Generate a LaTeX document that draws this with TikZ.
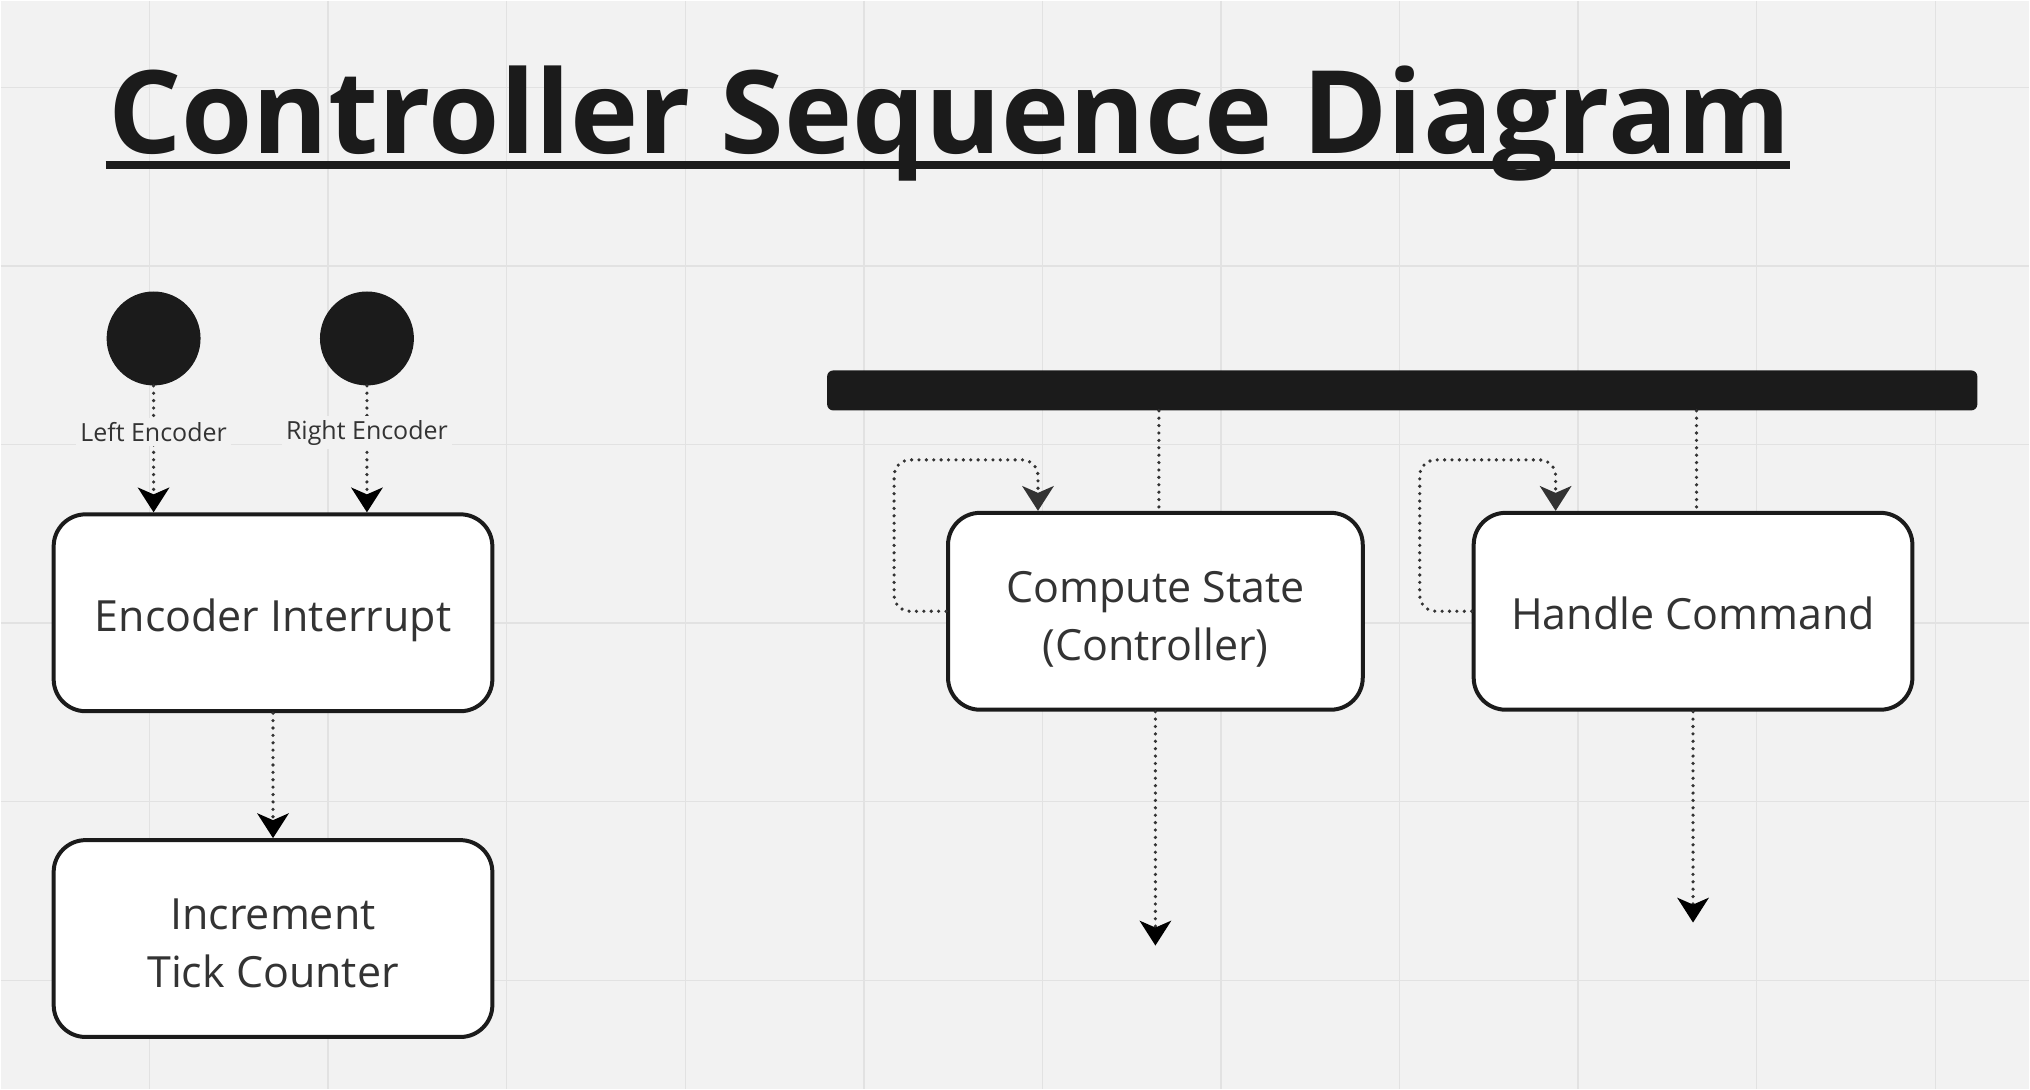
\documentclass[tikz,border=0pt]{standalone}
\usepackage{fontspec}
\setmainfont{Open Sans}
\usetikzlibrary{arrows.meta}
\definecolor{board}{HTML}{F2F2F2}
\definecolor{gridline}{HTML}{E2E2E2}
\definecolor{ink}{HTML}{1B1B1B}
\definecolor{wire}{HTML}{333333}

\begin{document}
\begin{tikzpicture}[x=0.5pt,y=-0.5pt,
    >={Stealth[length=12.5pt,width=16pt,inset=3.5pt,line width=0pt]},
    flow/.style={->,draw=wire,line width=1.8pt,
      dash pattern=on 0pt off 3.7pt,line cap=round},
    state node/.style={rectangle,rounded corners=16pt,draw=ink,line width=2pt,
      fill=white,text=wire,font=\fontsize{21.5}{29}\selectfont,align=center,
      text depth=0pt,execute at begin node={\rule{0pt}{18.5pt}},
      minimum width=219.5pt,minimum height=98.5pt},
    start node/.style={circle,fill=ink,minimum size=47pt,inner sep=0pt},
    bar node/.style={rectangle,fill=ink,rounded corners=3pt,inner sep=0pt,
      minimum width=575.5pt,minimum height=20pt},
    io node/.style={fill=board,text=wire,
      font=\fontsize{12.5}{15}\selectfont,inner sep=2pt}]

  % board and grid
  \fill[board] (0,0) rectangle (2030,1089);
  \foreach \i in {0,...,10}
    \draw[gridline,line width=0.7pt] (148.9+\i*178.7,0) -- (148.9+\i*178.7,1089);
  \foreach \j in {0,...,5}
    \draw[gridline,line width=0.7pt] (0,86.7+\j*178.7) -- (2030,86.7+\j*178.7);

  % title
  \node[anchor=base west,inner sep=0pt,text=ink,
    font=\fontsize{57.7}{66}\selectfont\bfseries] (TITLE) at (107,153)
    {Controller Sequence Diagram};
  \draw[ink,line width=4pt] ([shift={(-1pt,-5.5pt)}]TITLE.base west)
    -- ([shift={(-1pt,-5.5pt)}]TITLE.base east);

  \node[start node] (LE) at (153,338) {};
  \node[start node] (RE) at (366.5,338) {};
  \node[state node] (EI) at (272.5,612.5) {Encoder Interrupt};
  \node[state node] (ITC) [node distance=163pt, below of=EI]
    {\rule{0pt}{20pt}Increment\\Tick Counter};

  \node[bar node] (BAR) at (1402.5,390) {};
  \node[state node,minimum width=207.5pt] (CS) at (1155.5,611)
    {\rule{0pt}{20pt}Compute State\\(Controller)};
  \node[state node] (HC) [node distance=269pt, right of=CS] {Handle Command};

  \coordinate (CSin) at ([xshift=46pt]CS.north west);
  \coordinate (HCin) at ([xshift=42pt]HC.north west);
  \coordinate (CSend) at ([yshift=-117pt]CS.south);
  \coordinate (HCend) at ([yshift=-105.5pt]HC.south);

  \path[flow]
    (LE) edge node[io node,pos=0.365] {Left Encoder} (LE |- EI.north)
    (RE) edge node[io node,pos=0.37] {Right Encoder} (RE |- EI.north)
    (EI) edge (ITC)
    (CS) edge (CSend)
    (HC) edge (HCend);

  \draw[flow,-] ([xshift=1.75pt]CS.north |- BAR.south) -- ([xshift=1.75pt]CS.north);
  \draw[flow,-] ([xshift=1.75pt]HC.north |- BAR.south) -- ([xshift=1.75pt]HC.north);

  % self loops
  \draw[flow,rounded corners=8pt] (CS.west) -- ++(-52,0) |- ([yshift=25.5pt]CSin) -- (CSin);
  \draw[flow,rounded corners=8pt] (HC.west) -- ++(-52,0) |- ([yshift=25.5pt]HCin) -- (HCin);
\end{tikzpicture}
\end{document}
